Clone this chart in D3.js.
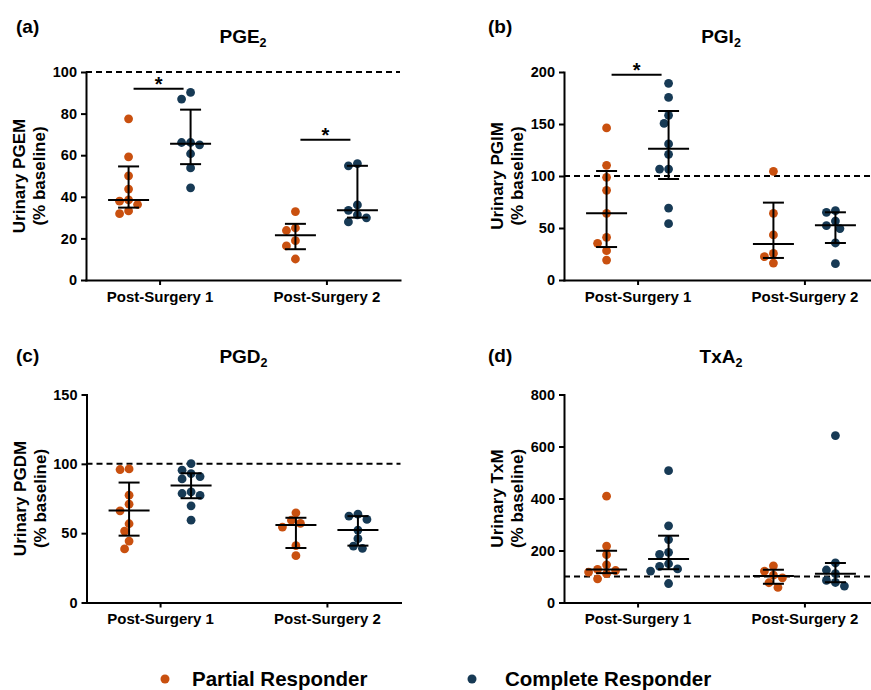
<!DOCTYPE html>
<html>
<head>
<meta charset="utf-8">
<script src="https://cdn.jsdelivr.net/npm/d3@7"></script>
<style>
  body { margin: 0; background: #fff; }
  svg text { font-family: "Liberation Sans", Arial, sans-serif; font-weight: bold; fill: #000; }
</style>
</head>
<body>
<div id="chart"></div>
<script>

// Data (values are % of baseline)

const groups = ["Post-Surgery 1", "Post-Surgery 2"];
const series = ["Partial Responder", "Complete Responder"];
const seriesColors = ["#c9500f", "#173a55"];

const panelLetters = ["(a)", "(b)", "(c)", "(d)"];
const titleMain = ["PGE", "PGI", "PGD", "TxA"];
const titleSub = ["2", "2", "2", "2"];
const yLabels = ["Urinary PGEM", "Urinary PGIM", "Urinary PGDM", "Urinary TxM"];
const yMax = [100, 200, 150, 800];
const yTicks = [[0, 20, 40, 60, 80, 100], [0, 50, 100, 150, 200], [0, 50, 100, 150], [0, 200, 400, 600, 800]];

// points: [Post-Surgery 1, Post-Surgery 2]
const pge2Partial = [[77.5, 59.2, 50.1, 43.7, 38.5, 37.9, 36.3, 33.2, 31.9], [32.9, 25.0, 23.8, 18.9, 16.4, 10.1]];
const pge2Complete = [[90.2, 87.0, 66.1, 66.1, 65.0, 60.7, 53.9, 44.3], [55.9, 54.9, 36.1, 33.5, 31.3, 29.9, 27.9]];
const pgi2Partial = [[146.2, 110.3, 98.7, 86.2, 64.1, 41.0, 35.3, 28.2, 19.2], [104.5, 64.1, 43.3, 25.6, 22.4, 16.3]];
const pgi2Complete = [[189.1, 175.6, 158.3, 150.6, 130.8, 120.8, 106.7, 106.7, 69.2, 54.2], [66.7, 65.1, 56.7, 52.2, 49.4, 35.6, 15.7]];
const pgd2Partial = [[96.3, 95.9, 77.4, 70.9, 66.1, 56.8, 51.5, 44.3, 38.6], [64.7, 59.4, 57.0, 54.4, 41.0, 33.8]];
const pgd2Complete = [[100.2, 95.4, 93.0, 90.8, 89.1, 79.8, 78.6, 77.2, 69.7, 59.4], [63.7, 62.3, 59.9, 52.2, 46.0, 40.7, 39.1]];
const txa2Partial = [[409, 217, 184, 145, 127, 123, 117, 111, 91], [141, 121, 105, 95, 76, 58]];
const txa2Complete = [[507, 295, 242, 193, 185, 149, 139, 129, 121, 73], [642, 152, 125, 111, 85, 77, 63]];

// median and interquartile range: [PS1 partial, PS1 complete, PS2 partial, PS2 complete]
const pge2Median = [38.5, 65.5, 21.5, 33.5];
const pge2Low = [34.8, 55.7, 14.8, 30.0];
const pge2High = [54.6, 81.9, 27.0, 54.9];
const pgi2Median = [64.1, 126.3, 34.6, 52.6];
const pgi2Low = [31.7, 97.1, 21.2, 35.6];
const pgi2High = [104.8, 162.5, 74.4, 65.1];
const pgd2Median = [66.4, 84.4, 55.8, 52.2];
const pgd2Low = [48.2, 75.2, 39.3, 41.0];
const pgd2High = [86.5, 93.2, 61.1, 62.3];
const txa2Median = [127, 167, 102, 111];
const txa2Low = [113, 128, 72, 78];
const txa2High = [199, 257, 126, 152];

// significance bars (height of bar, null = none) per group
const pge2Sig = [92, 67.4];
const pgi2Sig = [197.4, null];
const pgd2Sig = [null, null];
const txa2Sig = [null, null];

const baselineValue = 100;

// Layout
const svgWidth = 871;
const svgHeight = 690;
const plotW = 314;
const plotH = 208;
const origins = [[86, 72], [564, 72], [86.5, 394.5], [564, 394.5]];
const dotR = 4.4;

const panels = [
  {partial: pge2Partial, complete: pge2Complete, med: pge2Median, lo: pge2Low, hi: pge2High, sig: pge2Sig},
  {partial: pgi2Partial, complete: pgi2Complete, med: pgi2Median, lo: pgi2Low, hi: pgi2High, sig: pgi2Sig},
  {partial: pgd2Partial, complete: pgd2Complete, med: pgd2Median, lo: pgd2Low, hi: pgd2High, sig: pgd2Sig},
  {partial: txa2Partial, complete: txa2Complete, med: txa2Median, lo: txa2Low, hi: txa2High, sig: txa2Sig}
];

const svg = d3.select("#chart")
  .append("svg")
  .attr("width", svgWidth)
  .attr("height", svgHeight);

// simple beeswarm: nudge points sideways until they stop overlapping
function swarm(ys, r, step) {
  const placed = [];
  return ys.map(y => {
    let dx = 0;
    for (let k = 0; k < 40; k++) {
      const cand = k === 0 ? 0 : (k % 2 ? -1 : 1) * Math.ceil(k / 2) * step;
      const ok = placed.every(p => (p.x - cand) ** 2 + (p.y - y) ** 2 >= (2 * r - 0.4) ** 2);
      if (ok) { dx = cand; break; }
    }
    placed.push({x: dx, y: y});
    return dx;
  });
}

panels.forEach((p, pi) => {
  const [x0, y0] = origins[pi];
  const g = svg.append("g").attr("transform", `translate(${x0},${y0})`);

  const y = d3.scaleLinear().domain([0, yMax[pi]]).range([plotH, 0]);
  const x = d3.scalePoint().domain(groups).range([0, plotW]).padding(0.441);
  const off = d3.scalePoint().domain(series).range([-31, 31]);

  // axes
  const yAxis = g.append("g")
    .call(d3.axisLeft(y).tickValues(yTicks[pi]).tickSize(5).tickSizeOuter(0).tickPadding(4));
  yAxis.selectAll("text").attr("font-size", "14.5px");

  const xAxis = g.append("g")
    .attr("transform", `translate(0,${plotH})`)
    .call(d3.axisBottom(x).tickSize(5).tickSizeOuter(0).tickPadding(6));
  xAxis.selectAll("text").attr("font-size", "15px");

  g.selectAll(".domain, .tick line").attr("stroke", "#000").attr("stroke-width", 2);
  g.selectAll(".domain").attr("stroke-linecap", "square");

  // baseline 100%
  g.append("line")
    .attr("x1", 0).attr("x2", plotW)
    .attr("y1", y(baselineValue)).attr("y2", y(baselineValue))
    .attr("stroke", "#000").attr("stroke-width", 2)
    .attr("stroke-dasharray", "6,4");

  // points
  groups.forEach((grp, gi) => {
    [p.partial[gi], p.complete[gi]].forEach((vals, si) => {
      const cx = x(grp) + off(series[si]);
      const dxs = swarm(vals.map(v => y(v)), dotR, 4.5);
      g.selectAll(null)
        .data(vals)
        .enter()
        .append("circle")
          .attr("cx", (d, i) => cx + dxs[i])
          .attr("cy", d => y(d))
          .attr("r", dotR)
          .attr("fill", seriesColors[si]);
    });
  });

  // median + IQR
  const stats = [];
  groups.forEach((grp, gi) => series.forEach((s, si) => {
    const k = gi * 2 + si;
    stats.push({cx: x(grp) + off(s), med: p.med[k], lo: p.lo[k], hi: p.hi[k]});
  }));

  const bars = g.selectAll(".stat").data(stats).enter().append("g")
    .attr("class", "stat")
    .attr("stroke", "#000").attr("stroke-width", 2);
  bars.append("line")
    .attr("x1", d => d.cx).attr("x2", d => d.cx)
    .attr("y1", d => y(d.lo)).attr("y2", d => y(d.hi));
  bars.append("line")
    .attr("x1", d => d.cx - 20.5).attr("x2", d => d.cx + 20.5)
    .attr("y1", d => y(d.med)).attr("y2", d => y(d.med));
  bars.append("line")
    .attr("x1", d => d.cx - 10.5).attr("x2", d => d.cx + 10.5)
    .attr("y1", d => y(d.lo)).attr("y2", d => y(d.lo));
  bars.append("line")
    .attr("x1", d => d.cx - 10.5).attr("x2", d => d.cx + 10.5)
    .attr("y1", d => y(d.hi)).attr("y2", d => y(d.hi));

  // significance
  groups.forEach((grp, gi) => {
    const v = p.sig[gi];
    if (v === null) return;
    g.append("line")
      .attr("x1", x(grp) - 26).attr("x2", x(grp) + 24)
      .attr("y1", y(v)).attr("y2", y(v))
      .attr("stroke", "#000").attr("stroke-width", 2);
    g.append("text")
      .attr("x", x(grp) - 1).attr("y", y(v) + 2)
      .attr("text-anchor", "middle")
      .attr("font-size", "20px")
      .text("*");
  });

  // titles
  const t = svg.append("text")
    .attr("x", x0 + 157).attr("y", pi < 2 ? 42.5 : 363)
    .attr("text-anchor", "middle")
    .attr("font-size", "19px");
  t.append("tspan").text(titleMain[pi]);
  t.append("tspan").attr("dy", 4).attr("font-size", "12.5px").text(titleSub[pi]);

  svg.append("text")
    .attr("x", pi % 2 ? 488 : 16).attr("y", pi < 2 ? 32.5 : 361.5)
    .attr("font-size", "19px")
    .text(panelLetters[pi]);

  // y label, two lines
  [yLabels[pi], "(% baseline)"].forEach((lab, li) => {
    svg.append("text")
      .attr("transform", `translate(${x0 - 61 + li * 20},${y0 + plotH / 2}) rotate(-90)`)
      .attr("text-anchor", "middle")
      .attr("font-size", "17px")
      .text(lab);
  });
});

// legend
const legendX = [165, 472];
series.forEach((s, i) => {
  svg.append("circle")
    .attr("cx", legendX[i]).attr("cy", 679).attr("r", 4.5)
    .attr("fill", seriesColors[i]);
  svg.append("text")
    .attr("x", legendX[i] + (i ? 33 : 27)).attr("y", 685.5)
    .attr("font-size", "20.5px")
    .text(s);
});

</script>
</body>
</html>
